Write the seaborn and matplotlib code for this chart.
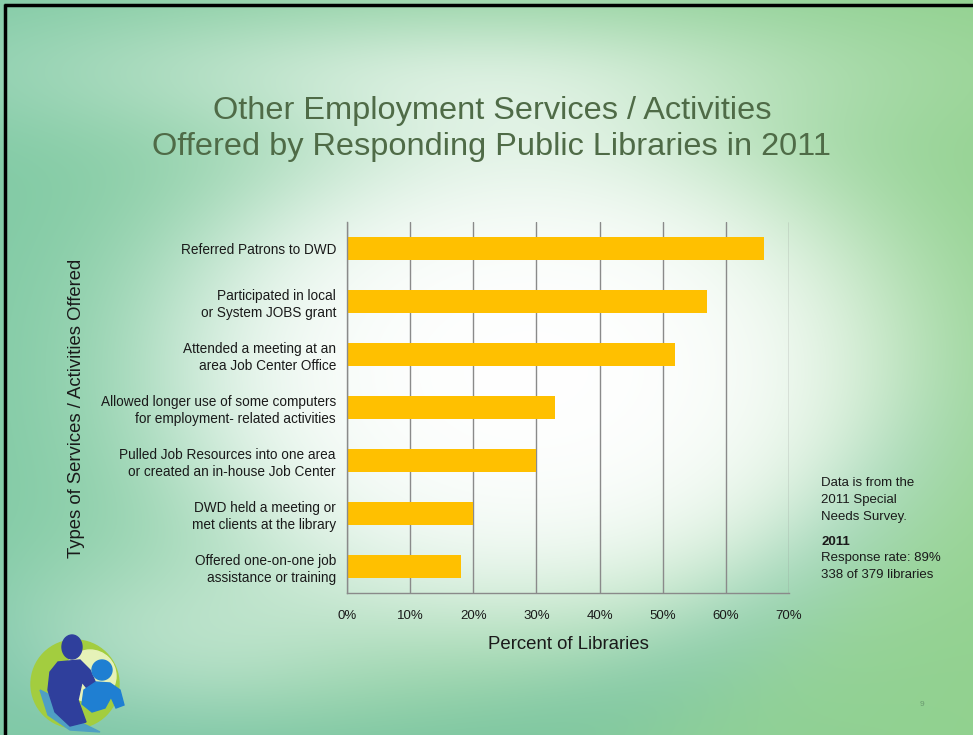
import numpy as np
import pandas as pd
import matplotlib
matplotlib.use("Agg")
import matplotlib.pyplot as plt
from matplotlib.patches import Circle, Polygon, Ellipse
import seaborn as sns

# Survey results: share of responding libraries offering each service (%)
categories = [
    "Referred Patrons to DWD",
    "Participated in local\nor System JOBS grant",
    "Attended a meeting at an\narea Job Center Office",
    "Allowed longer use of some computers\nfor employment- related activities",
    "Pulled Job Resources into one area\nor created an in-house Job Center",
    "DWD held a meeting or\nmet clients at the library",
    "Offered one-on-one job\nassistance or training",
]
percent = [66, 57, 52, 33, 30, 20, 18]
tick_values = [0, 10, 20, 30, 40, 50, 60, 70]
tick_labels = ["0%", "10%", "20%", "30%", "40%", "50%", "60%", "70%"]

title_lines = ["Other Employment Services / Activities",
               "Offered by Responding Public Libraries in 2011"]
note_lines = ["Data is from the", "2011 Special", "Needs Survey."]
note_year = "2011"
note_stats = ["Response rate: 89%", "338 of 379 libraries"]

df = pd.DataFrame({"service": categories, "percent": percent})

sns.set_theme(style="white")
plt.rcParams["font.family"] = ["Liberation Sans", "DejaVu Sans"]

W, H = 973, 735
fig = plt.figure(figsize=(W / 100, H / 100), dpi=100)

# ---- slide background: green gradient with a soft white swoosh ----
yy, xx = np.mgrid[0:H, 0:W].astype(float)
teal = np.array([0.50, 0.79, 0.64])
green = np.array([0.57, 0.82, 0.56])
t = np.clip(xx / W, 0, 1)[..., None]
img = teal * (1 - t) + green * t
# darker teal band sweeping across the lower right
r = np.sqrt((xx - 330) ** 2 + (yy - 120) ** 2)
fade = 1 / (1 + np.exp(-(yy - 430) / 40))
band = (np.exp(-((r - 640) / 70) ** 2) * fade)[..., None]
img = img * (1 - 0.45 * band) + np.array([0.40, 0.73, 0.62]) * 0.45 * band
# large white glow behind the chart
d = np.sqrt(((xx - 530) / 420) ** 2 + ((yy - 370) / 290) ** 2)
w = 1 / (1 + np.exp((d - 0.85) / 0.15))
# lighter arc near the top
d2 = ((xx - 430) / 430) ** 2 + ((yy - 70) / 70) ** 2
w2 = 0.45 * np.exp(-d2)
# pale sweep along the lower left
d3 = ((xx - 180) / 200) ** 2 + ((yy - 640) / 90) ** 2
w3 = 0.35 * np.exp(-d3)
wt = np.clip(w + w2 + w3, 0, 1)[..., None]
img = img * (1 - wt) + np.ones(3) * wt

ax_bg = fig.add_axes([0, 0, 1, 1], zorder=0)
ax_bg.imshow(img, extent=(0, W, H, 0), aspect="auto", interpolation="bilinear")
ax_bg.set_xlim(0, W)
ax_bg.set_ylim(H, 0)
ax_bg.axis("off")

# ---- decorations in pixel space: frame and logo ----
ax_deco = fig.add_axes([0, 0, 1, 1], zorder=1)
ax_deco.set_xlim(0, W)
ax_deco.set_ylim(H, 0)
ax_deco.axis("off")
ax_deco.patch.set_alpha(0)
ax_deco.plot([4, W], [5, 5], color="black", lw=2.5, solid_capstyle="butt")
ax_deco.plot([5, 5], [4, H], color="black", lw=2.5, solid_capstyle="butt")

ax_deco.add_patch(Circle((75, 684), 44, color="#a3cd3f"))
ax_deco.add_patch(Circle((90, 676), 26, color="#e6f2b8"))
ax_deco.add_patch(Polygon([(40, 690), (48, 715), (70, 730), (100, 732),
                           (80, 722), (60, 710), (50, 695)],
                          closed=True, color="#4f9fc4"))
ax_deco.add_patch(Ellipse((72, 647), 20, 24, color="#2f3f9c"))
ax_deco.add_patch(Polygon([(58, 662), (80, 660), (90, 670), (97, 686),
                           (90, 692), (82, 682), (78, 700), (86, 722),
                           (70, 726), (55, 712), (48, 690), (50, 672)],
                          closed=True, color="#2f3f9c"))
ax_deco.add_patch(Circle((102, 670), 10, color="#1f7fd2"))
ax_deco.add_patch(Polygon([(84, 690), (96, 682), (110, 683), (120, 690),
                           (124, 705), (116, 708), (111, 697), (105, 708),
                           (92, 712), (82, 704)],
                          closed=True, color="#1f7fd2"))

# ---- the bar chart ----
ax = fig.add_axes([347 / W, 1 - 593 / H, 442 / W, 371 / H], zorder=2)
ax.patch.set_alpha(0)
sns.barplot(data=df, x="percent", y="service", orient="h",
            color="#FFC000", saturation=1, width=0.43, linewidth=0, ax=ax)
ax.set_xlim(0, 70)
ax.set_xticks(tick_values)
ax.set_xticklabels(tick_labels)
ax.set_axisbelow(True)
ax.grid(axis="x", color="#8a8a8a", linewidth=1)
ax.grid(axis="y", visible=False)
for side in ("top", "right"):
    ax.spines[side].set_visible(False)
for side in ("left", "bottom"):
    ax.spines[side].set_color("#8a8a8a")
    ax.spines[side].set_linewidth(1)
ax.tick_params(axis="x", length=4, color="#8a8a8a", labelsize=9.5,
               labelcolor="#1a1a1a", pad=8)
ax.tick_params(axis="y", length=0, labelsize=9.8, labelcolor="#1a1a1a", pad=8)
for lab in ax.get_yticklabels():
    lab.set_horizontalalignment("right")
    lab.set_linespacing(1.3)
ax.set_xlabel("Percent of Libraries", fontsize=13.4, color="#1a1a1a", labelpad=10)
ax.set_ylabel("")

# axis title on the left, rotated
fig.text(77 / W, 1 - 408 / H, "Types of Services / Activities Offered",
         rotation=90, ha="center", va="center", fontsize=13.3, color="#1a1a1a")

# slide title
fig.text(492 / W, 1 - 111 / H, title_lines[0], ha="center", va="center",
         fontsize=23.4, color="#4f6b47")
fig.text(492 / W, 1 - 147 / H, title_lines[1], ha="center", va="center",
         fontsize=23.4, color="#4f6b47")

# survey note
y = 483
for line in note_lines:
    fig.text(821 / W, 1 - y / H, line, ha="left", va="center",
             fontsize=9.5, color="#1a1a1a")
    y += 17
y = 542
fig.text(821 / W, 1 - y / H, note_year, ha="left", va="center",
         fontsize=9.5, color="#1a1a1a", fontweight="bold")
y += 16.5
for line in note_stats:
    fig.text(821 / W, 1 - y / H, line, ha="left", va="center",
             fontsize=9.5, color="#1a1a1a")
    y += 16.5

fig.text(922 / W, 1 - 705 / H, "9", ha="center", va="center",
         fontsize=6, color="#6a9a70")

fig.savefig("out.png", dpi=100)
